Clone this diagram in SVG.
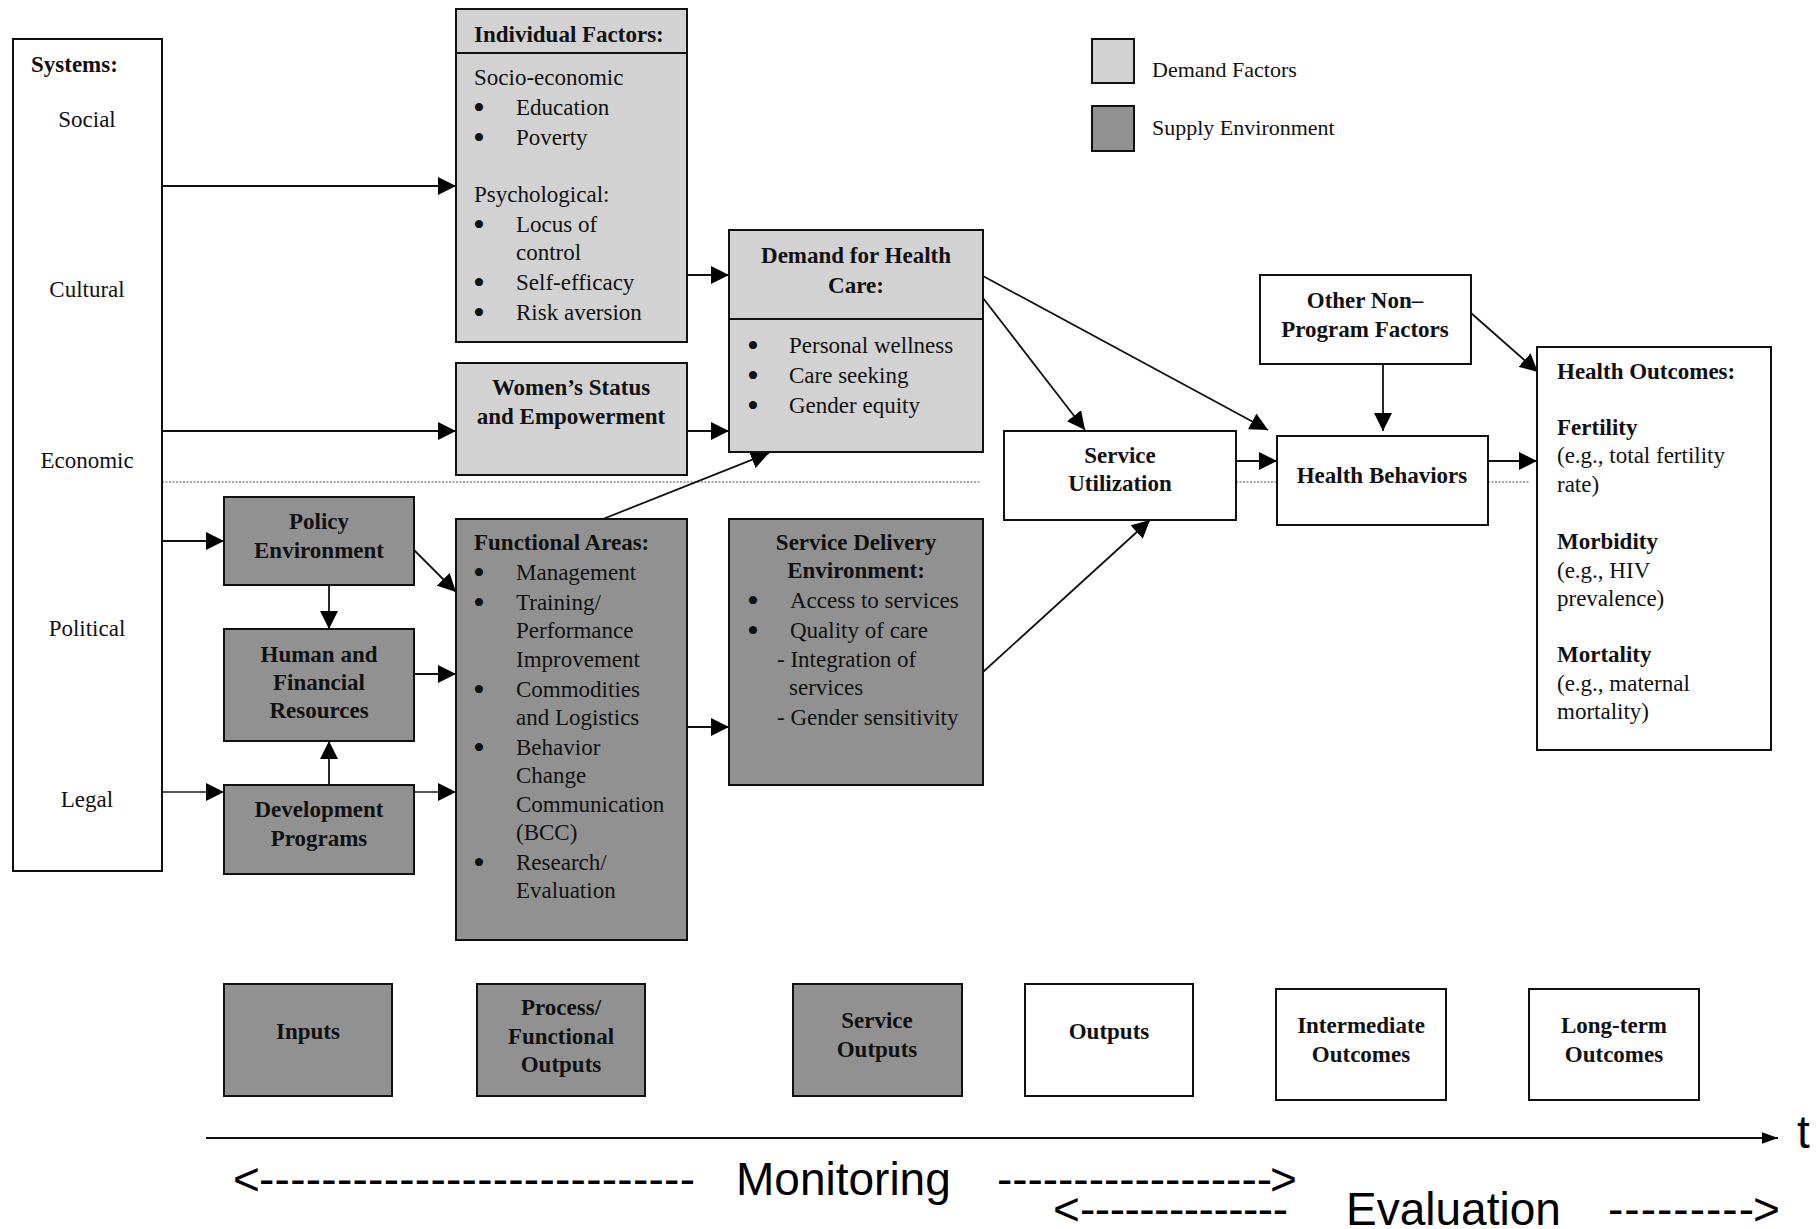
<svg xmlns="http://www.w3.org/2000/svg" width="1820" height="1229" viewBox="0 0 1820 1229">
<style>
.box{stroke:#111;stroke-width:2}
.light{fill:#d2d2d2}
.dark{fill:#919191}
.white{fill:#fff}
.t{font-family:"Liberation Serif","Times New Roman",serif;font-size:23px;fill:#111}
.bu{font-family:"Liberation Serif","Times New Roman",serif;font-size:34px;fill:#111;text-anchor:middle}
.b{font-weight:bold}
.c{text-anchor:middle}
.leg{font-size:22px}
.conn{stroke:#111;stroke-width:1.8;fill:none}
.gray{stroke:#555}
.dot{stroke:#888;stroke-width:1.6;stroke-dasharray:2 1.5;fill:none}
.mon{font-family:"Liberation Sans",Arial,sans-serif;font-size:46px;fill:#000}
</style>
<defs>
<marker id="ah" markerUnits="userSpaceOnUse" markerWidth="18" markerHeight="18" refX="17" refY="8.5" orient="auto" viewBox="0 0 17 17"><path d="M0,0 L17,8.5 L0,17 z" fill="#000"/></marker>
<marker id="ah2" markerUnits="userSpaceOnUse" markerWidth="16" markerHeight="12" refX="15" refY="5.5" orient="auto" viewBox="0 0 15 11"><path d="M0,0 L15,5.5 L0,11 z" fill="#000"/></marker>
</defs>

<g id="connectors">
<path class="dot" d="M162,482 H981 M1236,482 H1277 M1488,482 H1530"/>
<path class="conn" marker-end="url(#ah)" d="M162,186 H456"/>
<path class="conn" marker-end="url(#ah)" d="M162,431 H456"/>
<path class="conn" marker-end="url(#ah)" d="M162,541 H224"/>
<path class="conn gray" marker-end="url(#ah)" d="M162,792 H224"/>
<path class="conn" marker-end="url(#ah)" d="M687,275 H729"/>
<path class="conn" marker-end="url(#ah)" d="M687,431 H729"/>
<path class="conn" marker-end="url(#ah)" d="M414,550 L456,592"/>
<path class="conn" marker-end="url(#ah)" d="M329,585 V629"/>
<path class="conn" marker-end="url(#ah)" d="M414,674 H456"/>
<path class="conn" marker-end="url(#ah)" d="M329,785 V741"/>
<path class="conn gray" marker-end="url(#ah)" d="M414,792 H456"/>
<path class="conn" marker-end="url(#ah)" d="M603,519 L769,453"/>
<path class="conn" marker-end="url(#ah)" d="M687,727 H729"/>
<path class="conn" marker-end="url(#ah)" d="M983,298 L1085,430"/>
<path class="conn" marker-end="url(#ah)" d="M983,276 L1268,430"/>
<path class="conn" marker-end="url(#ah)" d="M983,672 L1150,520"/>
<path class="conn" marker-end="url(#ah)" d="M1236,461 H1277"/>
<path class="conn" marker-end="url(#ah)" d="M1383,364 V431"/>
<path class="conn" marker-end="url(#ah)" d="M1471,313 L1538,372"/>
<path class="conn" marker-end="url(#ah)" d="M1488,461 H1537"/>
<path class="conn" marker-end="url(#ah2)" d="M206,1138 H1778"/>
</g>

<g id="systems">
<rect class="box white" x="13" y="39" width="149" height="832"/>
<text class="t b" x="31" y="72">Systems:</text>
<text class="t c" x="87" y="127">Social</text>
<text class="t c" x="87" y="297">Cultural</text>
<text class="t c" x="87" y="468">Economic</text>
<text class="t c" x="87" y="636">Political</text>
<text class="t c" x="87" y="807">Legal</text>
</g>

<g id="individual-factors">
<rect class="box light" x="456" y="9" width="231" height="333"/>
<line class="box" x1="456" y1="53" x2="687" y2="53"/>
<text class="t b" x="474" y="42">Individual Factors:</text>
<text class="t" x="474" y="85">Socio-economic</text>
<text class="bu" x="479" y="119">•</text><text class="t" x="516" y="115">Education</text>
<text class="bu" x="479" y="149">•</text><text class="t" x="516" y="145">Poverty</text>
<text class="t" x="474" y="202">Psychological:</text>
<text class="bu" x="479" y="236">•</text><text class="t" x="516" y="232">Locus of</text>
<text class="t" x="516" y="260">control</text>
<text class="bu" x="479" y="294">•</text><text class="t" x="516" y="290">Self-efficacy</text>
<text class="bu" x="479" y="324">•</text><text class="t" x="516" y="320">Risk aversion</text>
</g>

<g id="womens-status">
<rect class="box light" x="456" y="363" width="231" height="112"/>
<text class="t b c" x="571" y="395">Women’s Status</text>
<text class="t b c" x="571" y="424">and Empowerment</text>
</g>

<g id="demand">
<rect class="box light" x="729" y="230" width="254" height="222"/>
<line class="box" x1="729" y1="319" x2="983" y2="319"/>
<text class="t b c" x="856" y="263">Demand for Health</text>
<text class="t b c" x="856" y="293">Care:</text>
<text class="bu" x="753" y="357">•</text><text class="t" x="789" y="353">Personal wellness</text>
<text class="bu" x="753" y="387">•</text><text class="t" x="789" y="383">Care seeking</text>
<text class="bu" x="753" y="417">•</text><text class="t" x="789" y="413">Gender equity</text>
</g>

<g id="legend">
<rect class="box light" x="1092" y="39" width="42" height="44"/>
<rect class="box dark" x="1092" y="106" width="42" height="45"/>
<text class="t leg" x="1152" y="77">Demand Factors</text>
<text class="t leg" x="1152" y="135">Supply Environment</text>
</g>

<g id="policy">
<rect class="box dark" x="224" y="497" width="190" height="88"/>
<text class="t b c" x="319" y="529">Policy</text>
<text class="t b c" x="319" y="558">Environment</text>
</g>

<g id="human-financial">
<rect class="box dark" x="224" y="629" width="190" height="112"/>
<text class="t b c" x="319" y="662">Human and</text>
<text class="t b c" x="319" y="690">Financial</text>
<text class="t b c" x="319" y="718">Resources</text>
</g>

<g id="development">
<rect class="box dark" x="224" y="785" width="190" height="89"/>
<text class="t b c" x="319" y="817">Development</text>
<text class="t b c" x="319" y="846">Programs</text>
</g>

<g id="functional-areas">
<rect class="box dark" x="456" y="519" width="231" height="421"/>
<text class="t b" x="474" y="550">Functional Areas:</text>
<text class="bu" x="479" y="584">•</text><text class="t" x="516" y="580">Management</text>
<text class="bu" x="479" y="614">•</text><text class="t" x="516" y="610">Training/</text>
<text class="t" x="516" y="638">Performance</text>
<text class="t" x="516" y="667">Improvement</text>
<text class="bu" x="479" y="701">•</text><text class="t" x="516" y="697">Commodities</text>
<text class="t" x="516" y="725">and Logistics</text>
<text class="bu" x="479" y="759">•</text><text class="t" x="516" y="755">Behavior</text>
<text class="t" x="516" y="783">Change</text>
<text class="t" x="516" y="812">Communication</text>
<text class="t" x="516" y="840">(BCC)</text>
<text class="bu" x="479" y="874">•</text><text class="t" x="516" y="870">Research/</text>
<text class="t" x="516" y="898">Evaluation</text>
</g>

<g id="service-delivery">
<rect class="box dark" x="729" y="519" width="254" height="266"/>
<text class="t b c" x="856" y="550">Service Delivery</text>
<text class="t b c" x="856" y="578">Environment:</text>
<text class="bu" x="753" y="612">•</text><text class="t" x="790" y="608">Access to services</text>
<text class="bu" x="753" y="642">•</text><text class="t" x="790" y="638">Quality of care</text>
<text class="t" x="777" y="667">- Integration of</text>
<text class="t" x="789" y="695">services</text>
<text class="t" x="777" y="725">- Gender sensitivity</text>
</g>

<g id="service-utilization">
<rect class="box white" x="1004" y="431" width="232" height="89"/>
<text class="t b c" x="1120" y="463">Service</text>
<text class="t b c" x="1120" y="491">Utilization</text>
</g>

<g id="other-factors">
<rect class="box white" x="1260" y="275" width="211" height="89"/>
<text class="t b c" x="1365" y="308">Other Non–</text>
<text class="t b c" x="1365" y="337">Program Factors</text>
</g>

<g id="health-behaviors">
<rect class="box white" x="1277" y="436" width="211" height="89"/>
<text class="t b c" x="1382" y="483">Health Behaviors</text>
</g>

<g id="health-outcomes">
<rect class="box white" x="1537" y="347" width="234" height="403"/>
<text class="t b" x="1557" y="379">Health Outcomes:</text>
<text class="t b" x="1557" y="435">Fertility</text>
<text class="t" x="1557" y="463">(e.g., total fertility</text>
<text class="t" x="1557" y="492">rate)</text>
<text class="t b" x="1557" y="549">Morbidity</text>
<text class="t" x="1557" y="578">(e.g., HIV</text>
<text class="t" x="1557" y="606">prevalence)</text>
<text class="t b" x="1557" y="662">Mortality</text>
<text class="t" x="1557" y="691">(e.g., maternal</text>
<text class="t" x="1557" y="719">mortality)</text>
</g>

<g id="inputs">
<rect class="box dark" x="224" y="984" width="168" height="112"/>
<text class="t b c" x="308" y="1039">Inputs</text>
</g>
<g id="process-outputs">
<rect class="box dark" x="477" y="984" width="168" height="112"/>
<text class="t b c" x="561" y="1015">Process/</text>
<text class="t b c" x="561" y="1044">Functional</text>
<text class="t b c" x="561" y="1072">Outputs</text>
</g>
<g id="service-outputs">
<rect class="box dark" x="793" y="984" width="169" height="112"/>
<text class="t b c" x="877" y="1028">Service</text>
<text class="t b c" x="877" y="1057">Outputs</text>
</g>
<g id="outputs">
<rect class="box white" x="1025" y="984" width="168" height="112"/>
<text class="t b c" x="1109" y="1039">Outputs</text>
</g>
<g id="intermediate-outcomes">
<rect class="box white" x="1276" y="989" width="170" height="111"/>
<text class="t b c" x="1361" y="1033">Intermediate</text>
<text class="t b c" x="1361" y="1062">Outcomes</text>
</g>
<g id="long-term-outcomes">
<rect class="box white" x="1529" y="989" width="170" height="111"/>
<text class="t b c" x="1614" y="1033">Long-term</text>
<text class="t b c" x="1614" y="1062">Outcomes</text>
</g>

<g id="timeline">
<text class="mon" x="1797" y="1148">t</text>
<text class="mon" x="233" y="1195">&lt;</text>
<text class="mon" x="259" y="1195" textLength="436" lengthAdjust="spacing">----------------------------</text>
<text class="mon" x="736" y="1195">Monitoring</text>
<text class="mon" x="997" y="1195" textLength="275" lengthAdjust="spacing">------------------</text>
<text class="mon" x="1270" y="1195">&gt;</text>
<text class="mon" x="1053" y="1225">&lt;</text>
<text class="mon" x="1080" y="1225" textLength="208" lengthAdjust="spacing">--------------</text>
<text class="mon" x="1346" y="1225">Evaluation</text>
<text class="mon" x="1608" y="1225" textLength="146" lengthAdjust="spacing">---------</text>
<text class="mon" x="1753" y="1225">&gt;</text>
</g>
</svg>
